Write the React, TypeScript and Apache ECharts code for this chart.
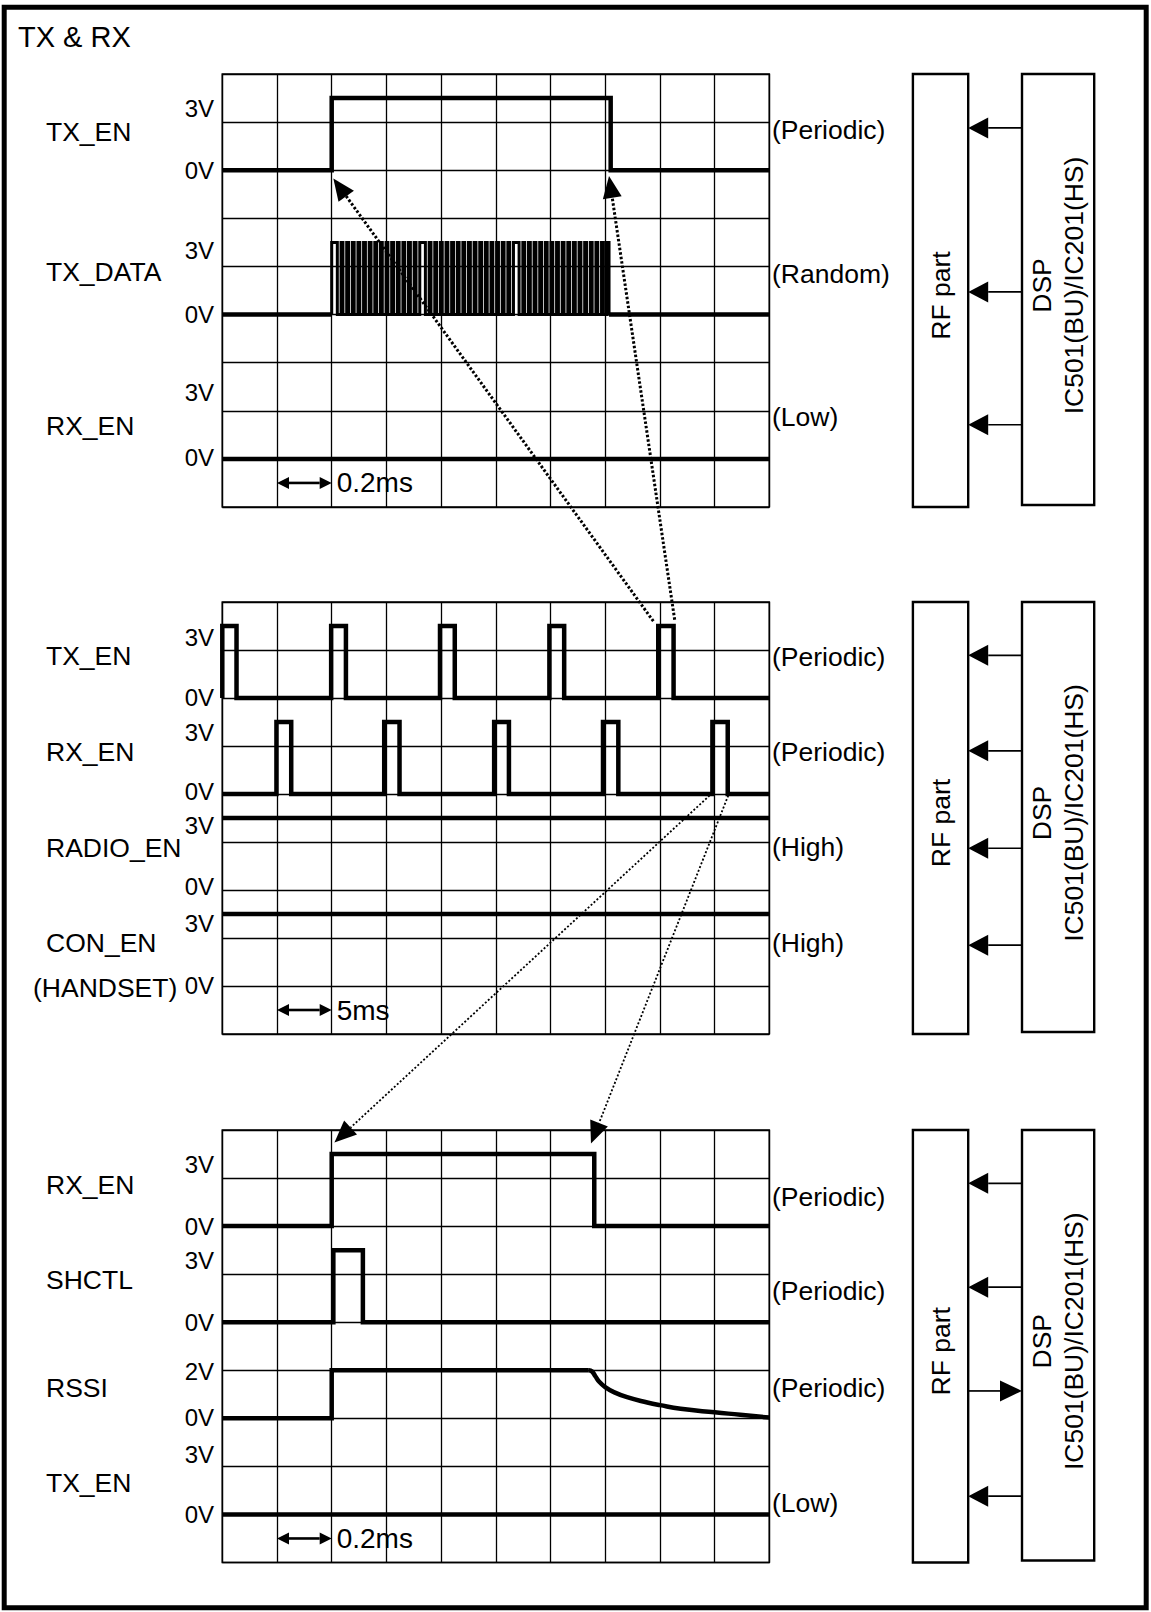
import React, { useEffect, useRef } from "react";
import * as echarts from "echarts";

// ---------------- data ----------------
const COLS = 10; // horizontal divisions
const ROWS = 9; // vertical divisions
const ROW_PER_VOLT = 0.5; // 3V spans 1.5 divisions

// Panel 1 : TX burst (0.2 ms / div)
const P1_TX_EN_T = [0, 2.0, 2.0, 7.1, 7.1, 10];
const P1_TX_EN_V = [0, 0, 3, 3, 0, 0];
const P1_TX_DATA_BITS =
  "11100" +
  "100100100100100" + "100100100100100" + "100100100100" +
  "11100" +
  "100100100100100" + "100100100100100" + "100100100100100" +
  "11100" +
  "100100100100100" + "100100100100100" + "100100100100100" +
  "1";
const P1_TX_DATA_SPAN = [2.0, 7.07];
const P1_RX_EN_T = [0, 10];
const P1_RX_EN_V = [0, 0];

// Panel 2 : frame (5 ms / div)
const P2_TX_EN_PULSES = [[0, 0.26], [1.99, 2.26], [3.98, 4.25], [5.98, 6.25], [7.97, 8.25]];
const P2_RX_EN_PULSES = [[0.99, 1.26], [2.96, 3.24], [4.97, 5.24], [6.96, 7.24], [8.96, 9.24]];
const P2_RADIO_EN_T = [0, 10];
const P2_RADIO_EN_V = [3, 3];
const P2_CON_EN_T = [0, 10];
const P2_CON_EN_V = [3, 3];

// Panel 3 : RX slot (0.2 ms / div)
const P3_RX_EN_T = [0, 2.0, 2.0, 6.8, 6.8, 10];
const P3_RX_EN_V = [0, 0, 3, 3, 0, 0];
const P3_SHCTL_T = [0, 2.03, 2.03, 2.57, 2.57, 10];
const P3_SHCTL_V = [0, 0, 3, 3, 0, 0];
const P3_RSSI_T = [0, 2.0, 2.0, 6.7];
const P3_RSSI_V = [0, 0, 2, 2];
const P3_RSSI_DECAY_T = [6.7, 6.76, 6.82, 6.9, 7.0, 7.15, 7.4, 7.77, 8.0, 8.38, 9.0, 9.47, 10];
const P3_RSSI_DECAY_V = [2.0, 1.95, 1.75, 1.5, 1.3, 1.1, 0.88, 0.66, 0.55, 0.4, 0.25, 0.15, 0.03];
const P3_TX_EN_T = [0, 10];
const P3_TX_EN_V = [0, 0];

const SCALE_LABELS = ["0.2ms", "5ms", "0.2ms"];

// ---------------- helpers ----------------
const zip = (t: number[], v: number[]) => t.map((x, i) => [x, v[i]]);
const pulses = (p: number[][], hi = 3) => {
  const out: number[][] = [[0, 0]];
  p.forEach(([a, b]) => out.push([a, 0], [a, hi], [b, hi], [b, 0]));
  out.push([COLS, 0]);
  return out;
};
const bitsToSteps = (bits: string, span: number[], hi = 3) => {
  const slot = (span[1] - span[0]) / bits.length;
  const out: number[][] = [];
  let prev = 0;
  for (let i = 0; i < bits.length; i++) {
    const b = bits[i] === "1" ? 1 : 0;
    const t = span[0] + i * slot;
    if (b !== prev) {
      out.push([t, prev * hi], [t, b * hi]);
      prev = b;
    }
  }
  const tEnd = span[0] + bits.length * slot;
  if (prev) out.push([tEnd, hi], [tEnd, 0]);
  return out;
};

// ---------------- layout ----------------
const GRID_LEFT = 222.3;
const GRID_W = 547;
const FONT = '"Liberation Sans", Arial, Helvetica, sans-serif';
const SIG_W = 4.5;

type Sig = {
  name: string; base: number; hiV: number; hiDy: number; loDy: number;
  nameRow: number; state: string; stateRow: number; arrowRow: number; out?: boolean;
  extra?: string;
};
const PANELS: { top: number; height: number; sigs: Sig[] }[] = [
  {
    top: 74, height: 433,
    sigs: [
      { name: "TX_EN", base: 7, hiV: 3, hiDy: 10, loDy: 0, nameRow: 0.8, state: "(Periodic)", stateRow: 0.84, arrowRow: 0.88 },
      { name: "TX_DATA", base: 4, hiV: 3, hiDy: 8, loDy: 0, nameRow: 0.89, state: "(Random)", stateRow: 0.85, arrowRow: 0.47 },
      { name: "RX_EN", base: 1, hiV: 3, hiDy: 6, loDy: -1, nameRow: 0.68, state: "(Low)", stateRow: 0.88, arrowRow: 0.71 },
    ],
  },
  {
    top: 602, height: 432,
    sigs: [
      { name: "TX_EN", base: 7, hiV: 3, hiDy: 11, loDy: -1, nameRow: 0.87, state: "(Periodic)", stateRow: 0.85, arrowRow: 0.89 },
      { name: "RX_EN", base: 5, hiV: 3, hiDy: 10, loDy: -3, nameRow: 0.87, state: "(Periodic)", stateRow: 0.87, arrowRow: 0.9 },
      { name: "RADIO_EN", base: 3, hiV: 3, hiDy: 7, loDy: -4, nameRow: 0.87, state: "(High)", stateRow: 0.9, arrowRow: 0.87 },
      { name: "CON_EN", base: 1, hiV: 3, hiDy: 9, loDy: -1, nameRow: 0.9, state: "(High)", stateRow: 0.9, arrowRow: 0.85, extra: "(HANDSET)" },
    ],
  },
  {
    top: 1130, height: 432.5,
    sigs: [
      { name: "RX_EN", base: 7, hiV: 3, hiDy: 10.5, loDy: 0, nameRow: 0.85, state: "(Periodic)", stateRow: 0.61, arrowRow: 0.89 },
      { name: "SHCTL", base: 5, hiV: 3, hiDy: 10.5, loDy: 0, nameRow: 0.88, state: "(Periodic)", stateRow: 0.64, arrowRow: 0.73 },
      { name: "RSSI", base: 3, hiV: 2, hiDy: 1, loDy: -1, nameRow: 0.63, state: "(Periodic)", stateRow: 0.64, arrowRow: 0.57, out: true },
      { name: "TX_EN", base: 1, hiV: 3, hiDy: 12, loDy: 0, nameRow: 0.66, state: "(Low)", stateRow: 0.24, arrowRow: 0.38 },
    ],
  },
];

// dotted cross-references: [panel, col, row] -> [panel, col, row]
const LINKS = [
  { from: [1, 7.88, 8.6], to: [0, 2.03, 6.83], w: 3, dash: [2.5, 2] },
  { from: [1, 8.27, 8.63], to: [0, 7.07, 6.88], w: 3, dash: [2.5, 2] },
  { from: [1, 8.91, 4.97], to: [2, 2.05, 8.74], w: 1.8, dash: [2, 2] },
  { from: [1, 9.25, 4.97], to: [2, 6.74, 8.72], w: 1.8, dash: [2, 2] },
];

const RF_X = 912.9, RF_W = 55.3;
const DSP_X = 1022, DSP_W = 72.2;

function head(tip: number[], from: number[], len: number, hw: number) {
  const dx = tip[0] - from[0], dy = tip[1] - from[1];
  const d = Math.hypot(dx, dy) || 1;
  const ux = dx / d, uy = dy / d;
  const bx = tip[0] - ux * len, by = tip[1] - uy * len;
  return {
    base: [bx, by],
    pts: [[tip[0], tip[1]], [bx - uy * hw, by + ux * hw], [bx + uy * hw, by - ux * hw]],
  };
}

function text(x: number, y: number, t: string, size: number, align: string, extra: any = {}) {
  return {
    type: "text", x, y, z: 50, ...extra,
    style: {
      text: t, fontSize: size, fontFamily: FONT, fill: "#000",
      align, verticalAlign: "middle", textAlign: align, textVerticalAlign: "middle",
    },
  };
}

export default function App() {
  const ref = useRef<HTMLDivElement>(null);
  useEffect(() => {
    document.body.style.margin = "0";
    const chart = echarts.init(ref.current!, null, { renderer: "svg" });

    const line = (gi: number, base: number, pts: number[][], width = SIG_W, smooth: any = false) => ({
      type: "line", xAxisIndex: gi, yAxisIndex: gi, silent: true, clip: false,
      showSymbol: false, symbol: "none", smooth, z: 5,
      lineStyle: { color: "#000", width, join: smooth ? "round" : "miter", cap: "butt" },
      data: pts.map(([t, v]) => [t, base + v * ROW_PER_VOLT]),
    });

    const series: any[] = [
      // panel 1
      line(0, 7, zip(P1_TX_EN_T, P1_TX_EN_V)),
      line(0, 4, [[0, 0], [P1_TX_DATA_SPAN[0], 0]]),
      line(0, 4, bitsToSteps(P1_TX_DATA_BITS, P1_TX_DATA_SPAN), 3),
      line(0, 4, [[P1_TX_DATA_SPAN[1], 0], [COLS, 0]]),
      line(0, 1, zip(P1_RX_EN_T, P1_RX_EN_V)),
      // panel 2
      line(1, 7, pulses(P2_TX_EN_PULSES)),
      line(1, 5, pulses(P2_RX_EN_PULSES)),
      line(1, 3, zip(P2_RADIO_EN_T, P2_RADIO_EN_V)),
      line(1, 1, zip(P2_CON_EN_T, P2_CON_EN_V)),
      // panel 3
      line(2, 7, zip(P3_RX_EN_T, P3_RX_EN_V)),
      line(2, 5, zip(P3_SHCTL_T, P3_SHCTL_V)),
      line(2, 3, zip(P3_RSSI_T, P3_RSSI_V)),
      line(2, 3, zip(P3_RSSI_DECAY_T, P3_RSSI_DECAY_V), SIG_W, 0.5),
      line(2, 1, zip(P3_TX_EN_T, P3_TX_EN_V)),
    ];

    const axisCommon = {
      type: "value", axisLine: { show: false }, axisTick: { show: false },
      axisLabel: { show: false }, interval: 1,
      splitLine: { show: true, lineStyle: { color: "#000", width: 1.3 } },
    };

    chart.setOption({
      animation: false,
      backgroundColor: "#fff",
      grid: PANELS.map((p) => ({
        left: GRID_LEFT, top: p.top, width: GRID_W, height: p.height,
        show: true, borderColor: "#000", borderWidth: 1.6, backgroundColor: "transparent",
      })),
      xAxis: PANELS.map((_, i) => ({ ...axisCommon, gridIndex: i, min: 0, max: COLS })),
      yAxis: PANELS.map((_, i) => ({ ...axisCommon, gridIndex: i, min: 0, max: ROWS })),
      series,
    });

    const px = (g: number, x: number, y: number) =>
      chart.convertToPixel({ gridIndex: g } as any, [x, y]) as unknown as number[];

    const gr: any[] = [];
    // outer frame
    gr.push({ type: "rect", z: 60, shape: { x: 4.2, y: 7.2, width: 1142, height: 1600.5 },
      style: { fill: "none", stroke: "#000", lineWidth: 5 } });
    gr.push(text(18, 37, "TX & RX", 29, "left"));

    PANELS.forEach((p, gi) => {
      p.sigs.forEach((s) => {
        const y0 = px(gi, 0, s.base)[1];
        const yHi = px(gi, 0, s.base + s.hiV * ROW_PER_VOLT)[1];
        gr.push(text(46, px(gi, 0, s.base + s.nameRow)[1], s.name, 26.5, "left"));
        gr.push(text(214, yHi + s.hiDy, s.hiV + "V", 24, "right"));
        gr.push(text(214, y0 + s.loDy, "0V", 24, "right"));
        if (s.extra) gr.push(text(33, y0 + 1.5, s.extra, 26.5, "left"));
        gr.push(text(772, px(gi, 0, s.base + s.stateRow)[1], s.state, 26.5, "left"));
        // block arrow
        const ya = px(gi, 0, s.base + s.arrowRow)[1];
        const rfR = RF_X + RF_W;
        if (!s.out) {
          const h = head([rfR, ya], [DSP_X, ya], 20, 10.5);
          gr.push({ type: "line", z: 40, shape: { x1: DSP_X, y1: ya, x2: h.base[0], y2: ya }, style: { stroke: "#000", lineWidth: 1.7 } });
          gr.push({ type: "polygon", z: 40, shape: { points: h.pts }, style: { fill: "#000" } });
        } else {
          const h = head([DSP_X, ya], [rfR, ya], 22, 10.5);
          gr.push({ type: "line", z: 40, shape: { x1: rfR, y1: ya, x2: h.base[0], y2: ya }, style: { stroke: "#000", lineWidth: 1.7 } });
          gr.push({ type: "polygon", z: 40, shape: { points: h.pts }, style: { fill: "#000" } });
        }
      });
      // RF / DSP boxes
      gr.push({ type: "rect", z: 30, shape: { x: RF_X, y: p.top, width: RF_W, height: p.height },
        style: { fill: "none", stroke: "#000", lineWidth: 2.4 } });
      gr.push({ type: "rect", z: 30, shape: { x: DSP_X, y: p.top, width: DSP_W, height: p.height - 2 },
        style: { fill: "none", stroke: "#000", lineWidth: 2.4 } });
      const cy = p.top + p.height / 2;
      gr.push(text(RF_X + RF_W / 2 + 0.5, cy + 5, "RF part", 26.5, "center", { rotation: Math.PI / 2 }));
      const dspT: any = text(DSP_X + DSP_W / 2, cy - 5, "DSP\nIC501(BU)/IC201(HS)", 26.5, "center", { rotation: Math.PI / 2 });
      dspT.style.lineHeight = 32;
      gr.push(dspT);
      // time-scale marker
      const a = px(gi, 1, 0.5), b = px(gi, 2, 0.5);
      const hl = head(a, b, 12, 6), hr = head(b, a, 12, 6);
      gr.push({ type: "line", z: 40, shape: { x1: hl.base[0], y1: a[1], x2: hr.base[0], y2: b[1] }, style: { stroke: "#000", lineWidth: 2.6 } });
      gr.push({ type: "polygon", z: 40, shape: { points: hl.pts }, style: { fill: "#000" } });
      gr.push({ type: "polygon", z: 40, shape: { points: hr.pts }, style: { fill: "#000" } });
      gr.push(text(b[0] + 5, b[1], SCALE_LABELS[gi], 28, "left"));
    });

    // dotted cross-reference arrows
    LINKS.forEach((l) => {
      const f = px(l.from[0], l.from[1], l.from[2]);
      const t = px(l.to[0], l.to[1], l.to[2]);
      const h = head(t, f, 22, 9.5);
      gr.push({ type: "line", z: 70, shape: { x1: f[0], y1: f[1], x2: h.base[0], y2: h.base[1] },
        style: { stroke: "#000", lineWidth: l.w, lineDash: l.dash } });
      gr.push({ type: "polygon", z: 70, shape: { points: h.pts }, style: { fill: "#000" } });
    });

    chart.setOption({ graphic: { elements: gr } });
    return () => chart.dispose();
  }, []);
  return (
    <div
      ref={ref}
      style={{ position: "absolute", left: 0, top: 0, width: 1151, height: 1612, background: "#fff" }}
    />
  );
}
